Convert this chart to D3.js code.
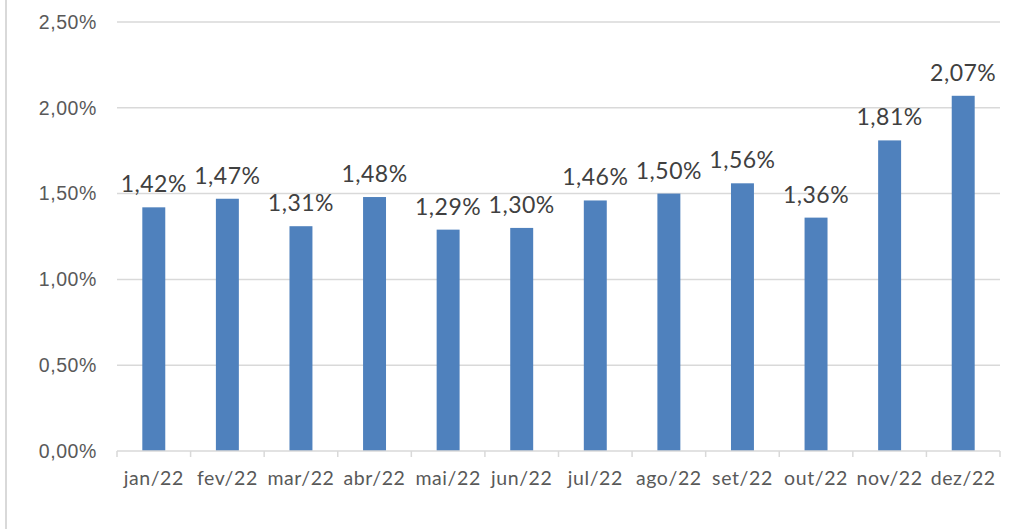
<!DOCTYPE html>
<html>
<head>
<meta charset="utf-8">
<script src="https://cdn.jsdelivr.net/npm/d3@7"></script>
<style>
  body { margin: 0; background: #fff; }
  svg { display: block; font-family: Lato, "Open Sans", sans-serif; }
  .tick text { fill: #595959; }
</style>
</head>
<body>
<svg id="chart" width="1014" height="529"></svg>
<script>
// monthly values (%)
var months = ["jan/22", "fev/22", "mar/22", "abr/22", "mai/22", "jun/22",
              "jul/22", "ago/22", "set/22", "out/22", "nov/22", "dez/22"];
var values = [1.42, 1.47, 1.31, 1.48, 1.29, 1.30, 1.46, 1.50, 1.56, 1.36, 1.81, 2.07];
var yTicks = [0, 0.5, 1.0, 1.5, 2.0, 2.5];

var svg = d3.select("#chart");
var margin = {left: 117, right: 14, top: 22, bottom: 78};
var width = 1014 - margin.left - margin.right;
var height = 529 - margin.top - margin.bottom;

var fmt = function(v) { return v.toFixed(2).replace(".", ",") + "%"; };

// chart frame left edge
svg.append("line")
    .attr("x1", 6).attr("x2", 6)
    .attr("y1", 0).attr("y2", 529)
    .attr("stroke", "#d9d9d9").attr("stroke-width", 2);

var g = svg.append("g").attr("transform", "translate(" + margin.left + "," + margin.top + ")");

var x = d3.scaleBand().domain(months).range([0, width]).paddingInner(0.688).paddingOuter(0.344);
var y = d3.scaleLinear().domain([0, 2.5]).range([height, 0]);

// gridlines
g.selectAll(".grid")
    .data(yTicks.slice(1))
    .enter().append("line")
    .attr("class", "grid")
    .attr("x1", 0).attr("x2", width)
    .attr("y1", function(d) { return y(d); })
    .attr("y2", function(d) { return y(d); })
    .attr("stroke", "#d9d9d9").attr("stroke-width", 1.5);

// y axis labels, no line
var yAxis = g.append("g")
    .call(d3.axisLeft(y).tickValues(yTicks).tickFormat(fmt).tickSize(0).tickPadding(20));
yAxis.select(".domain").remove();
yAxis.selectAll("text").style("font-size", "19.5px").style("letter-spacing", "0.6px");

// bars
g.selectAll(".bar")
    .data(values)
    .enter().append("rect")
    .attr("class", "bar")
    .attr("x", function(d, i) { return x(months[i]); })
    .attr("width", x.bandwidth())
    .attr("y", function(d) { return y(d); })
    .attr("height", function(d) { return height - y(d); })
    .attr("fill", "#4f81bd");

// x axis with ticks at category boundaries
var xAxis = g.append("g").attr("transform", "translate(0," + height + ")");
xAxis.append("line")
    .attr("x1", 0).attr("x2", width)
    .attr("stroke", "#d9d9d9").attr("stroke-width", 1.5);
xAxis.selectAll(".xt")
    .data(d3.range(months.length + 1))
    .enter().append("line")
    .attr("x1", function(i) { return i * width / months.length; })
    .attr("x2", function(i) { return i * width / months.length; })
    .attr("y1", 0).attr("y2", 6)
    .attr("stroke", "#d9d9d9").attr("stroke-width", 1.5);
xAxis.selectAll(".xl")
    .data(months)
    .enter().append("text")
    .attr("x", function(d) { return x(d) + x.bandwidth() / 2; })
    .attr("y", 34)
    .attr("text-anchor", "middle")
    .attr("fill", "#595959")
    .style("font-size", "19.5px")
    .style("letter-spacing", "0.6px")
    .text(function(d) { return d; });

// data labels
g.selectAll(".label")
    .data(values)
    .enter().append("text")
    .attr("class", "label")
    .attr("x", function(d, i) { return x(months[i]) + x.bandwidth() / 2; })
    .attr("y", function(d) { return y(d) - 15; })
    .attr("text-anchor", "middle")
    .attr("fill", "#404040")
    .style("font-size", "23px")
    .style("letter-spacing", "0.5px")
    .text(fmt);
</script>
</body>
</html>
